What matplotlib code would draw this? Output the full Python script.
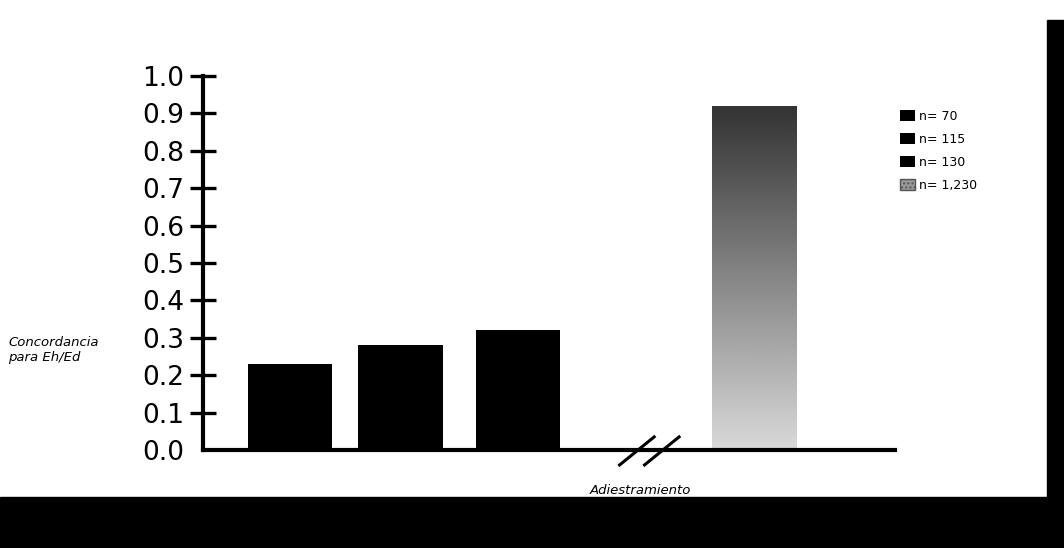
import matplotlib
matplotlib.use("Agg")
import matplotlib.pyplot as plt
import numpy as np
from matplotlib.patches import Rectangle, Patch
from matplotlib.lines import Line2D

# data
labels = ["n= 70", "n= 115", "n= 130", "n= 1,230"]
values = [0.23, 0.28, 0.32, 0.92]
yticks = [0.0, 0.1, 0.2, 0.3, 0.4, 0.5, 0.6, 0.7, 0.8, 0.9, 1.0]
ytick_labels = ["0.0", "0.1", "0.2", "0.3", "0.4", "0.5", "0.6", "0.7", "0.8", "0.9", "1.0"]
ylabel = "Concordancia\npara Eh/Ed"
xlabel = "Adiestramiento"

# layout: bar positions along the axis (the gap stands for the axis break)
positions = [0.0, 0.97, 2.0, 4.07]
bar_width = 0.74

plt.rcParams["font.family"] = ["DejaVu Sans"]

W, H = 1064, 548
fig = plt.figure(figsize=(W / 100, H / 100), dpi=100)
ax = fig.add_axes([203 / W, 98 / H, 692 / W, 374 / H])

bars = ax.bar(positions[:3], values[:3], width=bar_width, color="black")
last = ax.bar(positions[3], values[3], width=bar_width, color="none")

# gradient fill for the last bar, dark at the top, light at the bottom
grad = np.linspace(0.85, 0.2, 200).reshape(-1, 1)
x0 = positions[3] - bar_width / 2
img = ax.imshow(grad, cmap="gray", vmin=0, vmax=1, aspect="auto",
                extent=(x0, x0 + bar_width, 0, values[3]), origin="lower", zorder=2)
img.set_clip_path(last[0])

ax.set_xlim(-0.763, 5.307)
ax.set_ylim(0, 1.0)
ax.set_yticks(yticks)
ax.set_yticklabels(ytick_labels, fontsize=19)
ax.set_xticks([])
for side in ["top", "right"]:
    ax.spines[side].set_visible(False)
ax.spines["left"].set_linewidth(3)
ax.spines["bottom"].set_linewidth(3)
ax.tick_params(axis="y", direction="inout", length=19, width=2.4, pad=4)
ax.yaxis.get_major_ticks()[0].tick1line.set_visible(False)

# axis break marks
for xc in [0.627, 0.663]:
    ax.add_line(Line2D([xc - 0.025, xc + 0.025], [-0.04, 0.035], transform=ax.transAxes,
                       color="black", lw=2.2, clip_on=False))

fig.text(8 / W, 1 - 350 / H, ylabel, fontsize=9.5, style="italic", ha="left", va="center",
         linespacing=1.1)
fig.text(640 / W, 1 - 490 / H, xlabel, fontsize=9.5, style="italic", ha="center", va="center")

handles = [Patch(facecolor="black"), Patch(facecolor="black"), Patch(facecolor="black"),
           Patch(facecolor="#9a9a9a", edgecolor="#555555", hatch="....")]
fig.legend(handles, labels, loc="upper left", bbox_to_anchor=(900 / W, 1 - 110 / H),
           frameon=False, fontsize=9, handlelength=1.2, handleheight=1.0,
           handletextpad=0.3, labelspacing=0.8, borderpad=0, borderaxespad=0)

# black frame strips of the scanned page
fig.patches.append(Rectangle((1047 / W, 0), (W - 1047) / W, 1 - 20 / H,
                             transform=fig.transFigure, color="black", zorder=0))
fig.patches.append(Rectangle((0, 0), 1, (H - 497) / H,
                             transform=fig.transFigure, color="black", zorder=0))

fig.savefig("out.png", dpi=100)
